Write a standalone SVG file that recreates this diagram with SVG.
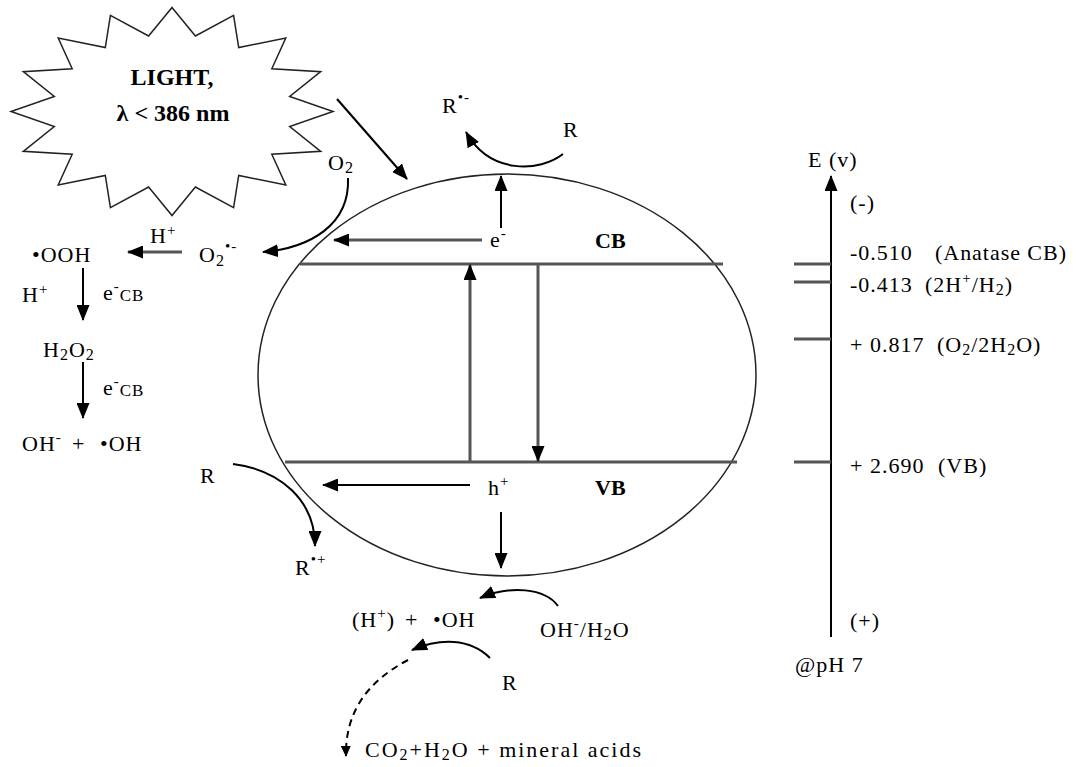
<svg xmlns="http://www.w3.org/2000/svg" width="1077" height="767" viewBox="0 0 1077 767">
<style>
text{font-family:"Liberation Serif","Times New Roman",serif;font-size:22px;fill:#000;letter-spacing:1px}
.b{font-weight:bold;font-size:24px;letter-spacing:0}
.bb{font-weight:bold;font-size:22px;letter-spacing:0}
.sub{font-size:16px}
.sup{font-size:15px}
.cb{font-size:17px}
.ln{stroke:#000;stroke-width:2;fill:none}
.gl{stroke:#555;stroke-width:3;fill:none}
.ar{marker-end:url(#ah)}
.as{marker-end:url(#ahs)}
</style>
<defs>
<marker id="ah" viewBox="0 0 16 13" refX="15" refY="6.5" markerWidth="16" markerHeight="13" orient="auto" markerUnits="userSpaceOnUse"><path d="M0,0 L16,6.5 L0,13 z" fill="#000"/></marker>
<marker id="ahs" viewBox="0 0 11 10" refX="10" refY="5" markerWidth="11" markerHeight="10" orient="auto" markerUnits="userSpaceOnUse"><path d="M0,0 L11,5 L0,10 z" fill="#000"/></marker>
</defs>
<rect width="1077" height="767" fill="#fff"/>

<g id="light">
<polygon points="172,7.5 195.4,36 233.6,15.4 238.7,47.5 285.8,38 271.8,68.7 320.7,71.7 289.7,96.5 333,111.5 289.7,126.5 320.7,151.3 271.8,154.3 285.8,185 238.7,175.5 233.6,207.6 195.4,187 172,215.5 148.6,187 110.4,207.6 105.3,175.5 58.2,185 72.2,154.3 23.3,151.3 54.3,126.5 11,111.5 54.3,96.5 23.3,71.7 72.2,68.7 58.2,38 105.3,47.5 110.4,15.4 148.6,36" fill="#fff" stroke="#222" stroke-width="1.5"/>
<text class="b" x="172" y="85" text-anchor="middle">LIGHT,</text>
<text class="b" x="173" y="121" text-anchor="middle">λ &lt; 386 nm</text>
</g>

<g id="particle">
<ellipse cx="507" cy="375" rx="249" ry="201" fill="none" stroke="#222" stroke-width="1.5"/>
<line class="gl" x1="300" y1="264" x2="723" y2="264"/>
<line class="gl" x1="285" y1="462" x2="737" y2="462"/>
<text class="bb" x="595" y="248">CB</text>
<text class="bb" x="595" y="495">VB</text>
</g>

<g id="labels-left">
<text x="32" y="262">•OOH</text>
<text x="150" y="243">H<tspan class="sup" dy="-8">+</tspan></text>
<text x="199" y="262">O<tspan class="sub" dy="4">2</tspan><tspan class="sup" dy="-15">•-</tspan></text>
<text x="328" y="170">O<tspan class="sub" dy="3">2</tspan></text>
<text x="22" y="302">H<tspan class="sup" dy="-8">+</tspan></text>
<text x="103" y="300">e<tspan class="sup" dy="-9">-</tspan><tspan class="cb" dy="10">CB</tspan></text>
<text x="43" y="357">H<tspan class="sub" dy="3">2</tspan><tspan dy="-3">O</tspan><tspan class="sub" dy="3">2</tspan></text>
<text x="103" y="395">e<tspan class="sup" dy="-9">-</tspan><tspan class="cb" dy="10">CB</tspan></text>
<text x="22" y="451">OH<tspan class="sup" dy="-9">-</tspan></text>
<text x="72" y="451">+</text>
<text x="100" y="451">•OH</text>
</g>

<g id="labels-top">
<text x="442" y="113">R<tspan class="sup" dy="-11">•-</tspan></text>
<text x="563" y="137">R</text>
<text x="490" y="247">e<tspan class="sup" dy="-9">-</tspan></text>
<text x="488" y="495">h<tspan class="sup" dy="-9">+</tspan></text>
</g>

<g id="labels-bottom">
<text x="200" y="483">R</text>
<text x="295" y="575">R<tspan class="sup" dy="-11">•+</tspan></text>
<text x="352" y="627">(H<tspan class="sup" dy="-9">+</tspan><tspan dy="9">)</tspan></text>
<text x="405" y="627">+</text>
<text x="433" y="627">•OH</text>
<text x="540" y="637">OH<tspan class="sup" dy="-9">-</tspan><tspan dy="9">/H</tspan><tspan class="sub" dy="3">2</tspan><tspan dy="-3">O</tspan></text>
<text x="502" y="690">R</text>
<text x="365" y="757" textLength="277" lengthAdjust="spacing">CO<tspan class="sub" dy="3">2</tspan><tspan dy="-3">+H</tspan><tspan class="sub" dy="3">2</tspan><tspan dy="-3">O + mineral  acids</tspan></text>
</g>

<g id="energy-scale">
<line class="ln" x1="831" y1="637" x2="831" y2="176" style="marker-end:url(#ah)"/>
<line class="gl" x1="794" y1="264" x2="831" y2="264"/>
<line class="gl" x1="794" y1="282" x2="831" y2="282"/>
<line class="gl" x1="794" y1="339" x2="831" y2="339"/>
<line class="gl" x1="794" y1="462" x2="831" y2="462"/>
<text x="808" y="167">E (v)</text>
<text x="850" y="210">(-)</text>
<text x="850" y="260">-0.510</text>
<text x="935" y="260" textLength="132" lengthAdjust="spacing">(Anatase CB)</text>
<text x="850" y="292">-0.413</text>
<text x="925" y="292">(2H<tspan class="sup" dy="-9">+</tspan><tspan dy="9">/H</tspan><tspan class="sub" dy="3">2</tspan><tspan dy="-3">)</tspan></text>
<text x="850" y="352">+ 0.817</text>
<text x="937" y="352">(O<tspan class="sub" dy="3">2</tspan><tspan dy="-3">/2H</tspan><tspan class="sub" dy="3">2</tspan><tspan dy="-3">O)</tspan></text>
<text x="850" y="473">+ 2.690</text>
<text x="938" y="473">(VB)</text>
<text x="850" y="628">(+)</text>
<text x="795" y="672">@pH 7</text>
</g>

<g id="connectors">
<line class="ln ar" x1="337" y1="99" x2="407" y2="179"/>
<line class="gl ar" x1="470" y1="462" x2="470" y2="265"/>
<line class="gl ar" x1="538" y1="264" x2="538" y2="461"/>
<line class="gl ar" x1="482" y1="240" x2="334" y2="240"/>
<line class="ln ar" x1="501" y1="228" x2="501" y2="176"/>
<line class="ln ar" x1="470" y1="485" x2="323" y2="485"/>
<line class="ln ar" x1="501" y1="512" x2="501" y2="568"/>
<line class="gl ar" x1="182" y1="252" x2="128" y2="252"/>
<line class="ln ar" x1="83" y1="268" x2="83" y2="320"/>
<line class="ln ar" x1="83" y1="362" x2="83" y2="418"/>
<path class="ln ar" d="M348,178 C350,225 310,248 263,252"/>
<path class="ln ar" d="M563,154 C540,172 490,175 466,132"/>
<path class="ln ar" d="M233,464 C280,470 315,500 315,546"/>
<path class="ln ar" d="M558,606 C545,588 510,585 480,598"/>
<path class="ln ar" d="M490,658 C470,638 440,638 412,650"/>
<path class="ln as" d="M408,660 C370,680 345,710 346,756" stroke-dasharray="7,5"/>
</g>
</svg>
